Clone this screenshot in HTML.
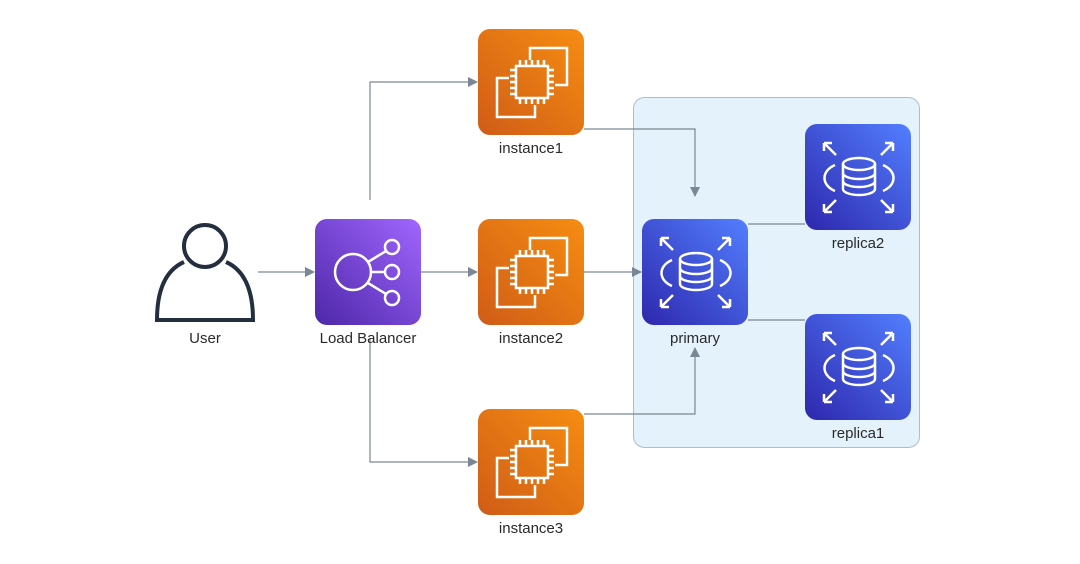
<!DOCTYPE html>
<html><head><meta charset="utf-8"><style>
html,body{margin:0;padding:0;background:#fff;}
svg{display:block;}
text{font-family:"Liberation Sans",sans-serif;font-size:15px;fill:#2a2a2a;text-anchor:middle;}
</style></head><body>
<svg width="1080" height="564" viewBox="0 0 1080 564" xmlns="http://www.w3.org/2000/svg">
<defs>
<linearGradient id="og" x1="0" y1="1" x2="1" y2="0"><stop offset="0" stop-color="#d05c17"/><stop offset="1" stop-color="#f68d11"/></linearGradient>
<linearGradient id="bg" x1="0" y1="1" x2="1" y2="0"><stop offset="0" stop-color="#2e27ad"/><stop offset="1" stop-color="#527fff"/></linearGradient>
<linearGradient id="pg" x1="0" y1="1" x2="1" y2="0"><stop offset="0" stop-color="#4d27a8"/><stop offset="1" stop-color="#a166ff"/></linearGradient>
<marker id="ah" markerWidth="10" markerHeight="10" refX="9" refY="5" orient="auto" markerUnits="userSpaceOnUse"><path d="M0,0 L10,5 L0,10 z" fill="#7b8794"/></marker>
<symbol id="ec2" viewBox="0 0 106 106">
<rect width="106" height="106" rx="12" fill="url(#og)"/>
<g fill="none" stroke="#fff" stroke-width="2.5">
<path d="M52,31 V19 H89 V56 H77"/>
<path d="M31,49 H19 V88 H57 V76"/>
<rect x="38" y="37" width="32" height="32"/>
<path d="M32,41H38M32,47H38M32,53H38M32,59H38M32,65H38M70,41H76M70,47H76M70,53H76M70,59H76M70,65H76M42,31V37M48,31V37M54,31V37M60,31V37M66,31V37M42,69V75M48,69V75M54,69V75M60,69V75M66,69V75"/>
</g></symbol>
<symbol id="rds" viewBox="0 0 106 106">
<rect width="106" height="106" rx="12" fill="url(#bg)"/>
<g fill="none" stroke="#fff" stroke-width="2.5">
<ellipse cx="54" cy="40" rx="16" ry="6"/>
<path d="M38,40 V65 A16,6 0 0 0 70,65 V40"/>
<path d="M38,49 A16,6 0 0 0 70,49 M38,57 A16,6 0 0 0 70,57"/>
<path d="M30,41 C16,47 16,61 30,67 M78,41 C92,47 92,61 78,67"/>
<path d="M19,19 L31,31 M19,19 H27 M19,19 V27"/>
<path d="M88,19 L76,31 M88,19 H80 M88,19 V27"/>
<path d="M19,88 L31,76 M19,88 H27 M19,88 V80"/>
<path d="M88,88 L76,76 M88,88 H80 M88,88 V80"/>
</g></symbol>
</defs>
<rect x="633.5" y="97.5" width="286" height="350" rx="11" fill="#e3f2fb" stroke="#b3bcc5" stroke-width="1"/>
<g fill="none" stroke="#7b8794" stroke-width="1.2">
<path d="M258,272 H314" marker-end="url(#ah)"/>
<path d="M421,272 H477" marker-end="url(#ah)"/>
<path d="M370,200 V82 H477" marker-end="url(#ah)"/>
<path d="M370,338 V462 H477" marker-end="url(#ah)"/>
<path d="M584,129 H695 V196" marker-end="url(#ah)"/>
<path d="M584,272 H641" marker-end="url(#ah)"/>
<path d="M584,414 H695 V348" marker-end="url(#ah)"/>
<path d="M748,224 H805"/>
<path d="M748,320 H805"/>
</g>
<g fill="none" stroke="#232f3e" stroke-width="4">
<circle cx="205" cy="246" r="21"/>
<path d="M184,262 C166,270 157,290 157,320 H253 C253,290 244,270 226,262"/>
</g>
<rect x="315" y="219" width="106" height="106" rx="12" fill="url(#pg)"/>
<g fill="none" stroke="#fff" stroke-width="2.5">
<circle cx="353" cy="272" r="18"/>
<circle cx="392" cy="247" r="7"/><circle cx="392" cy="272" r="7"/><circle cx="392" cy="298" r="7"/>
<path d="M368,262 L386,251 M371,272 H385 M368,283 L386,294"/>
</g>
<use href="#ec2" x="478" y="29" width="106" height="106"/>
<use href="#ec2" x="478" y="219" width="106" height="106"/>
<use href="#ec2" x="478" y="409" width="106" height="106"/>
<use href="#rds" x="642" y="219" width="106" height="106"/>
<use href="#rds" x="805" y="124" width="106" height="106"/>
<use href="#rds" x="805" y="314" width="106" height="106"/>
<text x="205" y="343">User</text>
<text x="368" y="343">Load Balancer</text>
<text x="531" y="153">instance1</text>
<text x="531" y="343">instance2</text>
<text x="531" y="533">instance3</text>
<text x="695" y="343">primary</text>
<text x="858" y="248">replica2</text>
<text x="858" y="438">replica1</text>
</svg>
</body></html>
